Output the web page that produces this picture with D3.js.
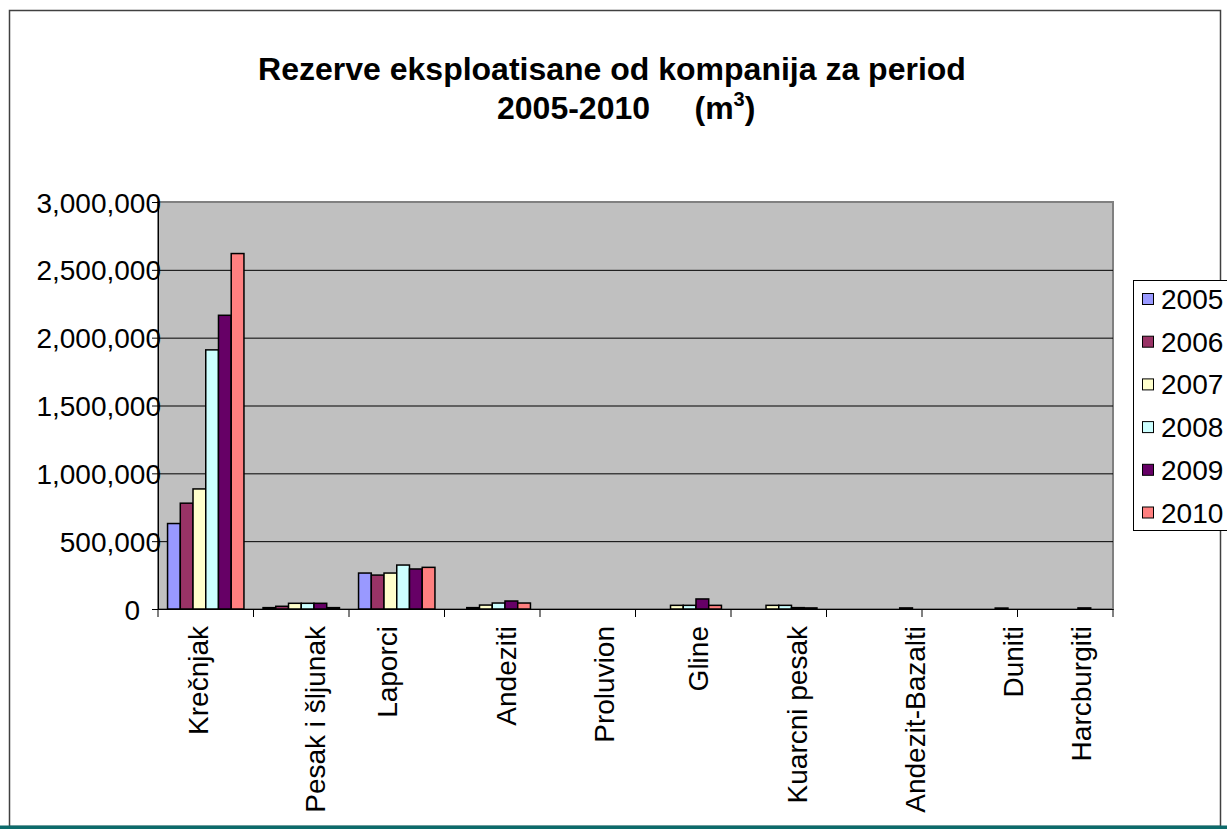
<!DOCTYPE html>
<meta charset="utf-8">
<script src="https://cdnjs.cloudflare.com/ajax/libs/d3/7.8.5/d3.min.js"></script>
<style>
    body { margin: 0; background: #fff; font-family: 'Liberation Sans', Arial, sans-serif; }
    svg { display: block; }
    .axis .domain { stroke: #000; }
    .axis line { stroke: #000; }
</style>
<svg width="1227" height="829"></svg>
<script>
    // chart data
    var categories = ["Krečnjak", "Pesak i šljunak", "Laporci", "Andeziti", "Proluvion",
        "Gline", "Kuarcni pesak", "Andezit-Bazalti", "Duniti", "Harcburgiti"];
    var years = ["2005", "2006", "2007", "2008", "2009", "2010"];
    var v2005 = [630000, 10000, 265000, 0, 0, 0, 0, 0, 0, 0];
    var v2006 = [780000, 20000, 250000, 10000, 0, 0, 0, 0, 0, 0];
    var v2007 = [885000, 42000, 265000, 29000, 0, 27000, 27000, 0, 0, 0];
    var v2008 = [1910000, 42000, 324000, 44000, 0, 27000, 27000, 0, 0, 0];
    var v2009 = [2165000, 42000, 295000, 59000, 0, 74000, 10000, 0, 0, 8000];
    var v2010 = [2620000, 10000, 307000, 44000, 0, 27000, 8000, 8000, 7000, 0];
    var yTicks = [0, 500000, 1000000, 1500000, 2000000, 2500000, 3000000];
    var colors = ["#9999FF", "#993366", "#FFFFCC", "#CCFFFF", "#660066", "#FF8080"];

    var series = [v2005, v2006, v2007, v2008, v2009, v2010];

    // label nudges (the source renders rotated labels a bit off centre)
    var labelShift = [-8, 14, -10, 14, 16, 15, 18, 41, 43, 16];

    var svg = d3.select("svg");

    // outer frame
    svg.append("rect")
        .attr("x", 9.5).attr("y", 10.5)
        .attr("width", 1211).attr("height", 816)
        .attr("fill", "#fff")
        .attr("stroke", "#404040")
        .attr("stroke-width", 1.5);
    svg.append("rect")
        .attr("x", 0).attr("y", 825.5)
        .attr("width", 1227).attr("height", 3.5)
        .attr("fill", "#0d6b6b");

    var plot = {left: 158, right: 1113, top: 202, bottom: 609};

    var x0 = d3.scaleBand()
        .domain(categories)
        .range([plot.left, plot.right]);

    var x1 = d3.scaleBand()
        .domain(years)
        .range([0, x0.bandwidth()])
        .paddingInner(0)
        .paddingOuter(0.75);

    var y = d3.scaleLinear()
        .domain([0, 3000000])
        .range([plot.bottom, plot.top]);

    // plot background
    svg.append("rect")
        .attr("x", plot.left).attr("y", plot.top)
        .attr("width", plot.right - plot.left)
        .attr("height", plot.bottom - plot.top)
        .attr("fill", "#C0C0C0")
        .attr("stroke", "#808080")
        .attr("stroke-width", 2);

    // gridlines
    svg.append("g")
        .selectAll("line")
        .data(yTicks.slice(1, -1))
        .enter().append("line")
        .attr("x1", plot.left).attr("x2", plot.right)
        .attr("y1", function(d) { return y(d) + 0.5; })
        .attr("y2", function(d) { return y(d) + 0.5; })
        .attr("stroke", "#000")
        .attr("stroke-width", 1);

    // bars
    svg.append("g")
        .selectAll("g")
        .data(series)
        .enter().append("g")
        .attr("fill", function(d, i) { return colors[i]; })
        .each(function(vals, si) {
            d3.select(this).selectAll("rect")
                .data(vals.map(function(v, ci) { return {c: categories[ci], v: v}; })
                    .filter(function(d) { return d.v > 0; }))
                .enter().append("rect")
                .attr("x", function(d) { return x0(d.c) + x1(years[si]); })
                .attr("y", function(d) { return y(d.v); })
                .attr("width", x1.bandwidth())
                .attr("height", function(d) { return y(0) - y(d.v); })
                .attr("stroke", "#000")
                .attr("stroke-width", 1.5);
        });

    // y axis
    var yAxis = svg.append("g")
        .attr("class", "axis")
        .attr("transform", "translate(" + plot.left + ",0)")
        .call(d3.axisLeft(y).tickValues(yTicks).tickFormat(d3.format(",")).tickSizeOuter(0).tickSize(6).tickPadding(-9));
    yAxis.selectAll("text")
        .attr("font-family", "'Liberation Sans', Arial, sans-serif")
        .attr("font-size", "28px")
        .attr("fill", "#000")
        .attr("dy", "0.36em");
    yAxis.selectAll(".tick").filter(function(d) { return d === 0; })
        .select("text").attr("x", -18);

    // x axis
    var xAxis = svg.append("g")
        .attr("class", "axis")
        .attr("transform", "translate(0," + plot.bottom + ")")
        .call(d3.axisBottom(x0).tickSize(0).tickSizeOuter(0));
    xAxis.selectAll(".tick text")
        .attr("font-family", "'Liberation Sans', Arial, sans-serif")
        .attr("font-size", "28px")
        .attr("fill", "#000")
        .attr("text-anchor", "end")
        .attr("transform", function(d, i) { return "translate(" + labelShift[i] + ",0) rotate(-90)"; })
        .attr("x", -17)
        .attr("y", 0)
        .attr("dy", "0.35em");
    // category boundary ticks
    xAxis.append("g")
        .selectAll("line")
        .data(categories.concat(["end"]))
        .enter().append("line")
        .attr("x1", function(d, i) { return plot.left + i * x0.step(); })
        .attr("x2", function(d, i) { return plot.left + i * x0.step(); })
        .attr("y1", 0).attr("y2", 8)
        .attr("stroke", "#000");

    // title
    var title = svg.append("g")
        .attr("font-family", "'Liberation Sans', Arial, sans-serif")
        .attr("font-weight", "bold")
        .attr("font-size", "32px")
        .attr("fill", "#000");
    title.append("text")
        .attr("x", 612).attr("y", 80)
        .attr("text-anchor", "middle")
        .text("Rezerve eksploatisane od kompanija za period");
    var t2 = title.append("text")
        .attr("x", 497).attr("y", 119)
        .attr("text-anchor", "start")
        .style("white-space", "pre");
    t2.append("tspan").text("2005-2010     (m");
    t2.append("tspan").attr("font-size", "20px").attr("dy", -13).text("3");
    t2.append("tspan").attr("dy", 13).text(")");

    // legend
    var legend = svg.append("g");
    legend.append("rect")
        .attr("x", 1133.5).attr("y", 280.5)
        .attr("width", 120).attr("height", 250)
        .attr("fill", "#fff")
        .attr("stroke", "#000");
    var item = legend.selectAll("g.item")
        .data(years)
        .enter().append("g")
        .attr("class", "item")
        .attr("transform", function(d, i) { return "translate(1142," + (299 + i * 42.7) + ")"; });
    item.append("rect")
        .attr("x", 0.5).attr("y", -5.5)
        .attr("width", 11).attr("height", 11)
        .attr("fill", function(d, i) { return colors[i]; })
        .attr("stroke", "#000");
    item.append("text")
        .attr("x", 19).attr("dy", "0.36em")
        .attr("font-family", "'Liberation Sans', Arial, sans-serif")
        .attr("font-size", "28px")
        .text(function(d) { return d; });
</script>
